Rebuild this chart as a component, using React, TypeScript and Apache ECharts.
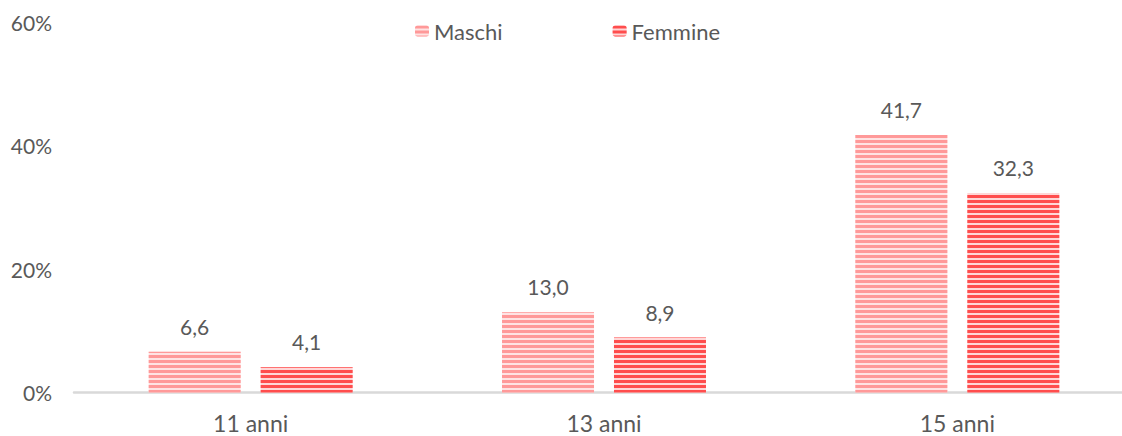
import React, { useEffect, useRef } from "react";
import * as echarts from "echarts";

const categories = ["11 anni", "13 anni", "15 anni"];
const maschi = [6.6, 13.0, 41.7];
const femmine = [4.1, 8.9, 32.3];
const seriesNames = ["Maschi", "Femmine"];

const FONT = "Lato, 'Liberation Sans', sans-serif";
const TEXT = "#595959";

const fmt = (v: number) => v.toFixed(1).replace(".", ",");

export default function App() {
  const ref = useRef<HTMLDivElement>(null);
  useEffect(() => {
    if (!ref.current) return;
    const chart = echarts.init(ref.current, undefined, { renderer: "svg" });
    const mkDecal = (color: string) => ({
      symbol: "rect",
      symbolSize: 1,
      color,
      dashArrayX: [1, 0],
      dashArrayY: [2.6, 1.6],
      rotation: 0,
    });
    const labelCfg = {
      show: true,
      position: "top",
      distance: 15,
      fontFamily: FONT,
      fontSize: 21,
      color: TEXT,
      formatter: (p: any) => fmt(p.value),
    };
    chart.setOption({
      animation: false,
      backgroundColor: "#ffffff",
      textStyle: { fontFamily: FONT, color: TEXT },
      legend: {
        top: 15,
        left: 410,
        itemWidth: 14,
        itemHeight: 11,
        itemGap: 110,
        textStyle: { fontFamily: FONT, fontSize: 22, color: TEXT },
        data: seriesNames,
      },
      grid: {
        left: 74,
        width: 1060,
        top: 22,
        bottom: 43.5,
        containLabel: false,
        outerBoundsMode: "none",
      },
      xAxis: {
        type: "category",
        data: categories,
        axisTick: { show: false },
        axisLine: { lineStyle: { color: "#D9D9D9", width: 2.5 } },
        axisLabel: {
          fontFamily: FONT,
          fontSize: 23,
          lineHeight: 18,
          color: TEXT,
          margin: 21,
        },
      },
      yAxis: {
        type: "value",
        min: 0,
        max: 60,
        interval: 20,
        splitLine: { show: false },
        axisLine: { show: false },
        axisTick: { show: false },
        axisLabel: {
          fontFamily: FONT,
          fontSize: 21,
          color: TEXT,
          margin: 22,
          formatter: (v: number) => v + "%",
        },
      },
      series: [
        {
          name: seriesNames[0],
          type: "bar",
          data: maschi,
          barWidth: 92,
          barGap: "21.7%",
          itemStyle: { color: "#FFE3E3", decal: mkDecal("#FF9999") },
          label: labelCfg,
        },
        {
          name: seriesNames[1],
          type: "bar",
          data: femmine,
          barWidth: 92,
          barGap: "21.7%",
          itemStyle: { color: "#FFD6D6", decal: mkDecal("#FF4D4D") },
          label: labelCfg,
        },
      ],
    });
    return () => chart.dispose();
  }, []);
  return (
    <div
      ref={ref}
      style={{ position: "fixed", left: 0, top: 0, width: 1122, height: 436 }}
    />
  );
}
